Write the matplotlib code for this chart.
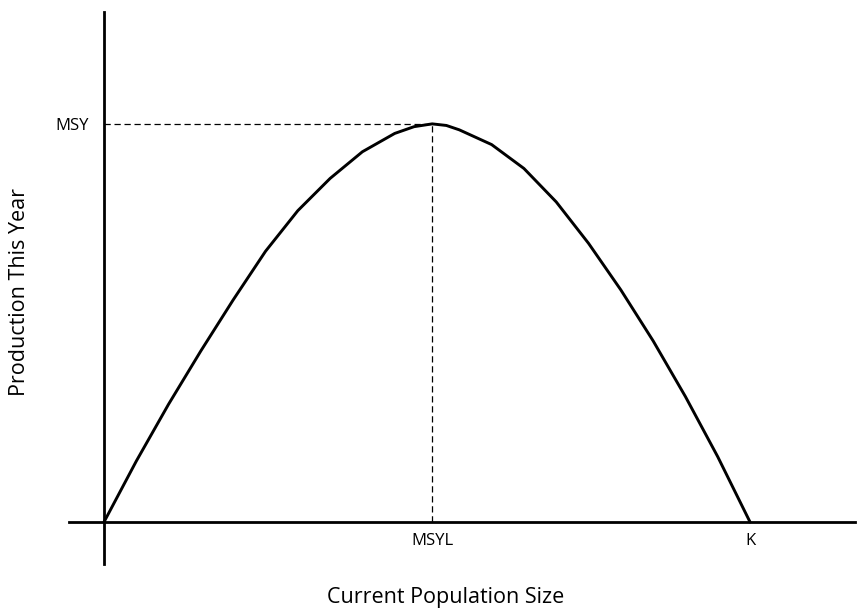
import matplotlib
matplotlib.use("Agg")
import matplotlib.pyplot as plt

# Curve (population size vs. production), K = 100, MSY = 100
population = [0, 5, 10, 15, 20, 25, 30, 35, 40, 45, 48, 50.8,
              53, 55, 60, 65, 70, 75, 80, 85, 90, 95, 100]
production = [0, 15.3, 29.6, 43.0, 55.8, 68.0, 78.2, 86.3, 93.0, 97.6, 99.3, 100,
              99.6, 98.5, 94.8, 88.8, 80.4, 70.0, 58.3, 45.5, 31.5, 16.4, 0]
msyl = 50.8
msy = 100
k = 100
x_tick_labels = ["MSYL", "K"]
y_tick_labels = ["MSY"]

plt.rcParams['font.family'] = ['Open Sans', 'DejaVu Sans']

W, H = 859, 616
fig = plt.figure(figsize=(W / 100, H / 100), dpi=100)
left, right, top, bottom = 69, 855, 12, 564
ax = fig.add_axes([left / W, 1 - bottom / H, (right - left) / W, (bottom - top) / H])

ax.plot(population, production, color='black', lw=2.1,
        solid_capstyle='round', solid_joinstyle='round')
ax.plot([0, msyl], [msy, msy], color='black', lw=0.9, ls=(0, (5, 3)))
ax.plot([msyl, msyl], [0, msy], color='black', lw=0.9, ls=(0, (5, 3)))

ax.set_xlim(-5.42, 116.25)
ax.set_ylim(-10.55, 128.1)

for s in ['top', 'right']:
    ax.spines[s].set_visible(False)
ax.spines['left'].set_position(('data', 0))
ax.spines['bottom'].set_position(('data', 0))
ax.spines['left'].set_linewidth(2.0)
ax.spines['bottom'].set_linewidth(2.0)

ax.set_xticks([msyl, k])
ax.set_xticklabels(x_tick_labels, fontsize=12)
ax.set_yticks([msy])
ax.set_yticklabels(y_tick_labels, fontsize=12)
ax.tick_params(axis='x', length=0, pad=8)
ax.tick_params(axis='y', length=0, pad=11)

fig.text(20 / W, 1 - 292 / H, "Production This Year", rotation=90,
         ha='center', va='center', fontsize=15.5)
fig.text(446 / W, 1 - 597 / H, "Current Population Size",
         ha='center', va='center', fontsize=15.5)

fig.savefig("out.png", dpi=100)
